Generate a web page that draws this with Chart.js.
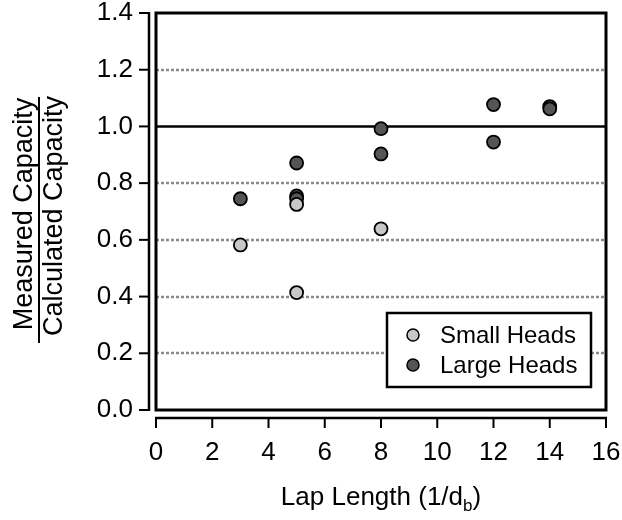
<!DOCTYPE html>
<html>
<head>
<meta charset="utf-8">
<script src="https://cdn.jsdelivr.net/npm/chart.js@4/dist/chart.umd.min.js"></script>
<style>
html,body{margin:0;padding:0;background:#fff;}
#wrap{width:622px;height:520px;position:relative;}
</style>
</head>
<body>
<div id="wrap"><canvas id="c" width="622" height="520"></canvas></div>
<script>
// ---- data ----
const seriesNames = ['Small Heads', 'Large Heads'];
const smallX = [3, 5, 5, 8];
const smallY = [0.582, 0.725, 0.414, 0.639];
const largeX = [3, 5, 5, 5, 8, 8, 12, 12, 14, 14];
const largeY = [0.745, 0.871, 0.755, 0.745, 0.992, 0.903, 1.077, 0.945, 1.070, 1.062];
const xTickLabels = ['0', '2', '4', '6', '8', '10', '12', '14', '16'];
const yTickLabels = ['0.0', '0.2', '0.4', '0.6', '0.8', '1.0', '1.2', '1.4'];
const yTitleTop = 'Measured Capacity';
const yTitleBottom = 'Calculated Capacity';
const xTitleMain = 'Lap Length (1/d';
const xTitleSub = 'b';
const xTitleEnd = ')';
const refLineValue = 1.0;

const FONT = '"Liberation Sans", Arial, Helvetica, sans-serif';
const smallColor = '#c8c8c8';
const largeColor = '#555555';

function pts(xs, ys) { return xs.map((x, i) => ({ x: x, y: ys[i] })); }

const decor = {
  id: 'decor',
  beforeDatasetsDraw(chart) {
    const ctx = chart.ctx;
    const xs = chart.scales.x, ys = chart.scales.y;
    const a = chart.chartArea;
    ctx.save();
    // dotted gridlines
    ctx.strokeStyle = '#8a8a8a';
    ctx.lineWidth = 2.5;
    ctx.setLineDash([3, 2]);
    ys.ticks.forEach(t => {
      if (Math.abs(t.value) < 1e-9 || Math.abs(t.value - refLineValue) < 1e-9 || Math.abs(t.value - ys.max) < 1e-9) return;
      const y = Math.round(ys.getPixelForValue(t.value));
      ctx.beginPath(); ctx.moveTo(a.left, y); ctx.lineTo(a.right, y); ctx.stroke();
    });
    ctx.setLineDash([]);
    // reference line
    ctx.strokeStyle = '#000';
    ctx.lineWidth = 2.5;
    const yr = ys.getPixelForValue(refLineValue);
    ctx.beginPath(); ctx.moveTo(a.left, yr); ctx.lineTo(a.right, yr); ctx.stroke();
    // plot frame
    ctx.lineWidth = 3;
    ctx.strokeRect(a.left, a.top, a.right - a.left, a.bottom - a.top);
    // detached y axis
    ctx.lineWidth = 2.5;
    const yAxX = a.left - 7;
    const y0 = ys.getPixelForValue(ys.min), y1 = ys.getPixelForValue(ys.max);
    ctx.beginPath(); ctx.moveTo(yAxX, y0 + 1); ctx.lineTo(yAxX, y1 - 1); ctx.stroke();
    ctx.lineWidth = 2;
    ys.ticks.forEach(t => {
      const y = ys.getPixelForValue(t.value);
      ctx.beginPath(); ctx.moveTo(yAxX - 10, y); ctx.lineTo(yAxX, y); ctx.stroke();
    });
    // detached x axis
    ctx.lineWidth = 2.5;
    const xAxY = a.bottom + 8;
    const x0 = xs.getPixelForValue(xs.min), x1 = xs.getPixelForValue(xs.max);
    ctx.beginPath(); ctx.moveTo(x0 - 1, xAxY); ctx.lineTo(x1 + 1, xAxY); ctx.stroke();
    ctx.lineWidth = 2;
    xs.ticks.forEach(t => {
      const x = xs.getPixelForValue(t.value);
      ctx.beginPath(); ctx.moveTo(x, xAxY); ctx.lineTo(x, xAxY + 10); ctx.stroke();
    });
    // y title fraction
    ctx.fillStyle = '#000';
    ctx.font = '27px ' + FONT;
    ctx.textAlign = 'center';
    ctx.textBaseline = 'alphabetic';
    ctx.save(); ctx.translate(32, 214); ctx.rotate(-Math.PI / 2); ctx.fillText(yTitleTop, 0, 0); ctx.restore();
    ctx.save(); ctx.translate(62, 216); ctx.rotate(-Math.PI / 2); ctx.fillText(yTitleBottom, 0, 0); ctx.restore();
    ctx.lineWidth = 2;
    ctx.beginPath(); ctx.moveTo(39, 97); ctx.lineTo(39, 343); ctx.stroke();
    // x title with subscript
    ctx.textAlign = 'left';
    const mainF = '26px ' + FONT, subF = '17px ' + FONT;
    ctx.font = mainF; const w1 = ctx.measureText(xTitleMain).width; const w3 = ctx.measureText(xTitleEnd).width;
    ctx.font = subF; const w2 = ctx.measureText(xTitleSub).width;
    const total = w1 + w2 + w3;
    let tx = 381 - total / 2;
    const base = 505;
    ctx.font = mainF; ctx.fillText(xTitleMain, tx, base); tx += w1;
    ctx.font = subF; ctx.fillText(xTitleSub, tx, base + 6); tx += w2;
    ctx.font = mainF; ctx.fillText(xTitleEnd, tx, base);
    ctx.restore();
  },
  afterDatasetsDraw(chart) {
    const ctx = chart.ctx;
    ctx.save();
    // legend box
    const lx = 387, ly = 313, lw = 204, lh = 74;
    ctx.fillStyle = '#fff';
    ctx.fillRect(lx, ly, lw, lh);
    ctx.strokeStyle = '#000'; ctx.lineWidth = 2.5;
    ctx.strokeRect(lx, ly, lw, lh);
    const rows = [335, 365];
    chart.data.datasets.forEach((ds, i) => {
      ctx.beginPath();
      ctx.arc(413, rows[i], 6, 0, Math.PI * 2);
      ctx.fillStyle = ds.backgroundColor; ctx.fill();
      ctx.lineWidth = 1.5; ctx.strokeStyle = '#000'; ctx.stroke();
      ctx.fillStyle = '#000';
      ctx.font = '24px ' + FONT;
      ctx.textAlign = 'left'; ctx.textBaseline = 'middle';
      ctx.fillText(ds.label, 440, rows[i] + 1);
    });
    ctx.restore();
  }
};

new Chart(document.getElementById('c'), {
  type: 'scatter',
  data: {
    datasets: [
      { label: seriesNames[0], data: pts(smallX, smallY), backgroundColor: smallColor, borderColor: '#000', borderWidth: 1.8, pointRadius: 6.5 },
      { label: seriesNames[1], data: pts(largeX, largeY), backgroundColor: largeColor, borderColor: '#000', borderWidth: 1.8, pointRadius: 6.5 }
    ]
  },
  options: {
    responsive: false,
    animation: false,
    events: [],
    layout: { padding: { left: 0, right: 16, top: 13, bottom: 0 } },
    plugins: { legend: { display: false }, tooltip: { enabled: false } },
    scales: {
      x: {
        type: 'linear', min: 0, max: 16,
        afterFit(s) { s.height = 110; s.paddingLeft = 0; s.paddingRight = 0; },
        grid: { display: false, drawTicks: false },
        border: { display: false },
        ticks: { stepSize: 2, padding: 27, color: '#000', font: { family: FONT, size: 26 },
          callback: (v, i) => xTickLabels[i] },
      },
      y: {
        type: 'linear', min: 0, max: 1.4,
        afterFit(s) { s.width = 156; s.paddingTop = 0; s.paddingBottom = 0; },
        grid: { display: false, drawTicks: false },
        border: { display: false },
        ticks: { stepSize: 0.2, padding: 23, color: '#000', font: { family: FONT, size: 26 },
          callback: (v, i) => yTickLabels[i] },
      }
    }
  },
  plugins: [decor]
});
</script>
</body>
</html>
